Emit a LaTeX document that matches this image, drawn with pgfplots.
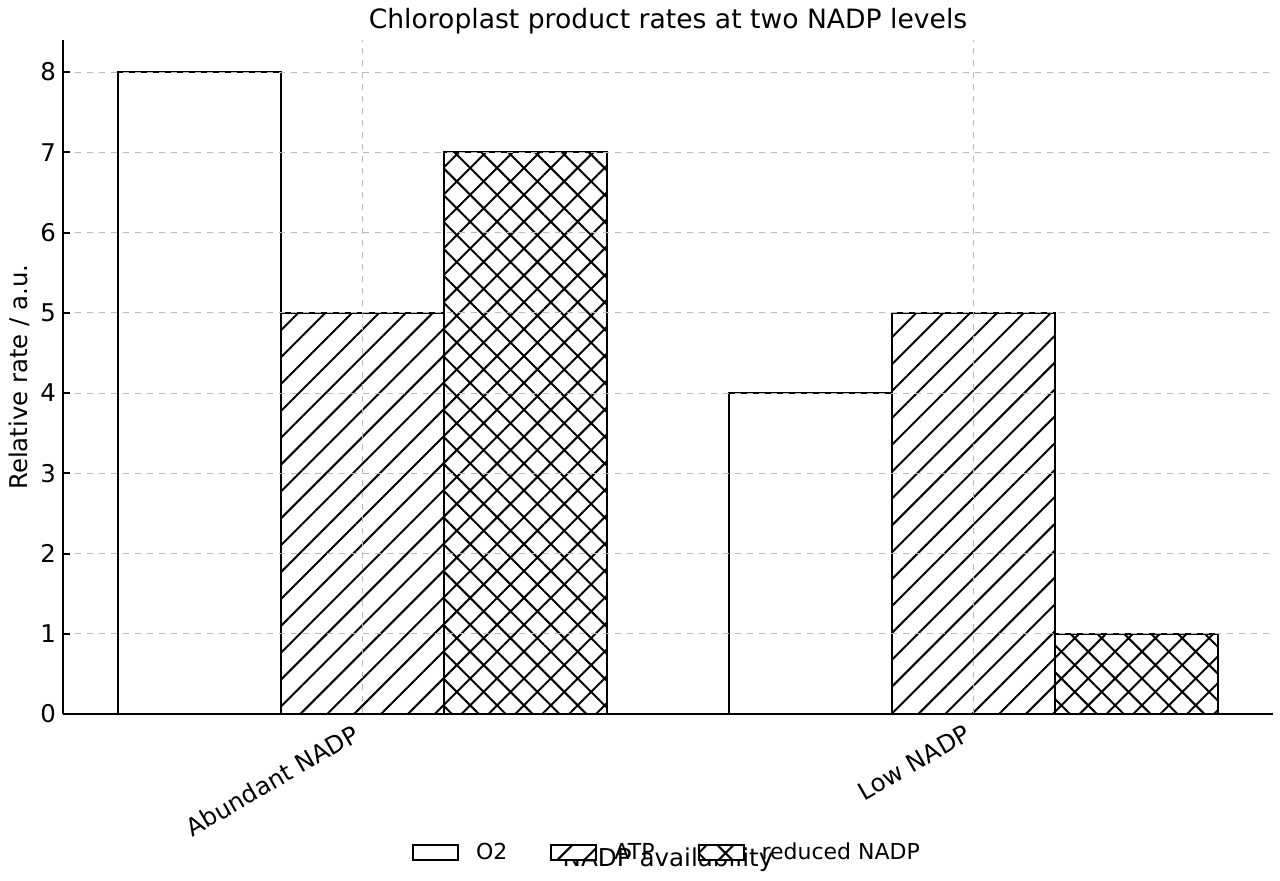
\documentclass[border=0pt]{standalone}
\usepackage{pgfplots}
\pgfplotsset{compat=1.18}
\usepackage{fontspec}
\setmainfont{DejaVu Sans}
\usetikzlibrary{patterns.meta}

% rates per condition: 0 = abundant NADP, 1 = low NADP
\pgfplotstableread{
x  o2  atp  nadph
0  8   5    7
1  4   5    1
}\rates

\begin{document}
\begin{tikzpicture}
\path[use as bounding box] (-31.5pt,-83pt) rectangle (608.5pt,357pt);
\begin{axis}[
  at={(0pt,0pt)}, anchor=south west,
  scale only axis,
  width=605pt, height=337pt,
  ybar=0pt, bar width=81.5pt,
  xmin=-0.489, xmax=1.489,
  ymin=0, ymax=8.4,
  axis x line*=bottom, axis y line*=left,
  axis line style={line width=1pt},
  xtick={0,1},
  xticklabels={Abundant NADP, Low NADP},
  xtick style={draw=none},
  xticklabel style={xshift=-4pt, rotate=30, anchor=north east, font=\fontsize{12.2}{14}\selectfont},
  ytick={0,1,...,8},
  yticklabel style={font=\fontsize{12.2}{14}\selectfont},
  /pgf/number format/assume math mode=true,
  ytick style={line width=1pt, black},
  tick align=inside,
  major tick length=3.5pt,
  grid=major,
  major grid style={dashed, gray!55, line width=0.4pt},
  axis on top,
  title={Chloroplast product rates at two NADP levels},
  title style={font=\fontsize{13.3}{16}\selectfont, yshift=-6.5pt},
  xlabel={NADP availability},
  xlabel style={at={(0.5,-0.2166)}, anchor=center, font=\fontsize{12.3}{14}\selectfont},
  ylabel={Relative rate / a.u.},
  ylabel style={font=\fontsize{12.2}{14}\selectfont, yshift=-1.5pt},
  legend columns=3,
  legend style={at={(0.5,-0.206)}, anchor=center, draw=none, fill=none,
    font=\fontsize{11}{13}\selectfont,
    /tikz/every odd column/.append style={column sep=6.5pt},
    /tikz/every even column/.append style={column sep=19.5pt}},
  legend image code/.code={\draw[#1] (0pt,-3.75pt) rectangle (22.5pt,3.75pt);},
]
\addplot[draw=black, line width=1pt, fill=white] table[x=x, y=o2] {\rates};
\addlegendentry{O2}
\addplot[draw=black, line width=1pt, fill=white,
  postaction={pattern={Lines[angle=45, distance=9.5pt, line width=1pt]}}]
  table[x=x, y=atp] {\rates};
\addlegendentry{ATP}
\addplot[draw=black, line width=1pt, fill=white,
  postaction={pattern={Hatch[angle=45, distance=9.5pt, line width=1pt]}}]
  table[x=x, y=nadph] {\rates};
\addlegendentry{reduced NADP}
\end{axis}
\end{tikzpicture}
\end{document}
